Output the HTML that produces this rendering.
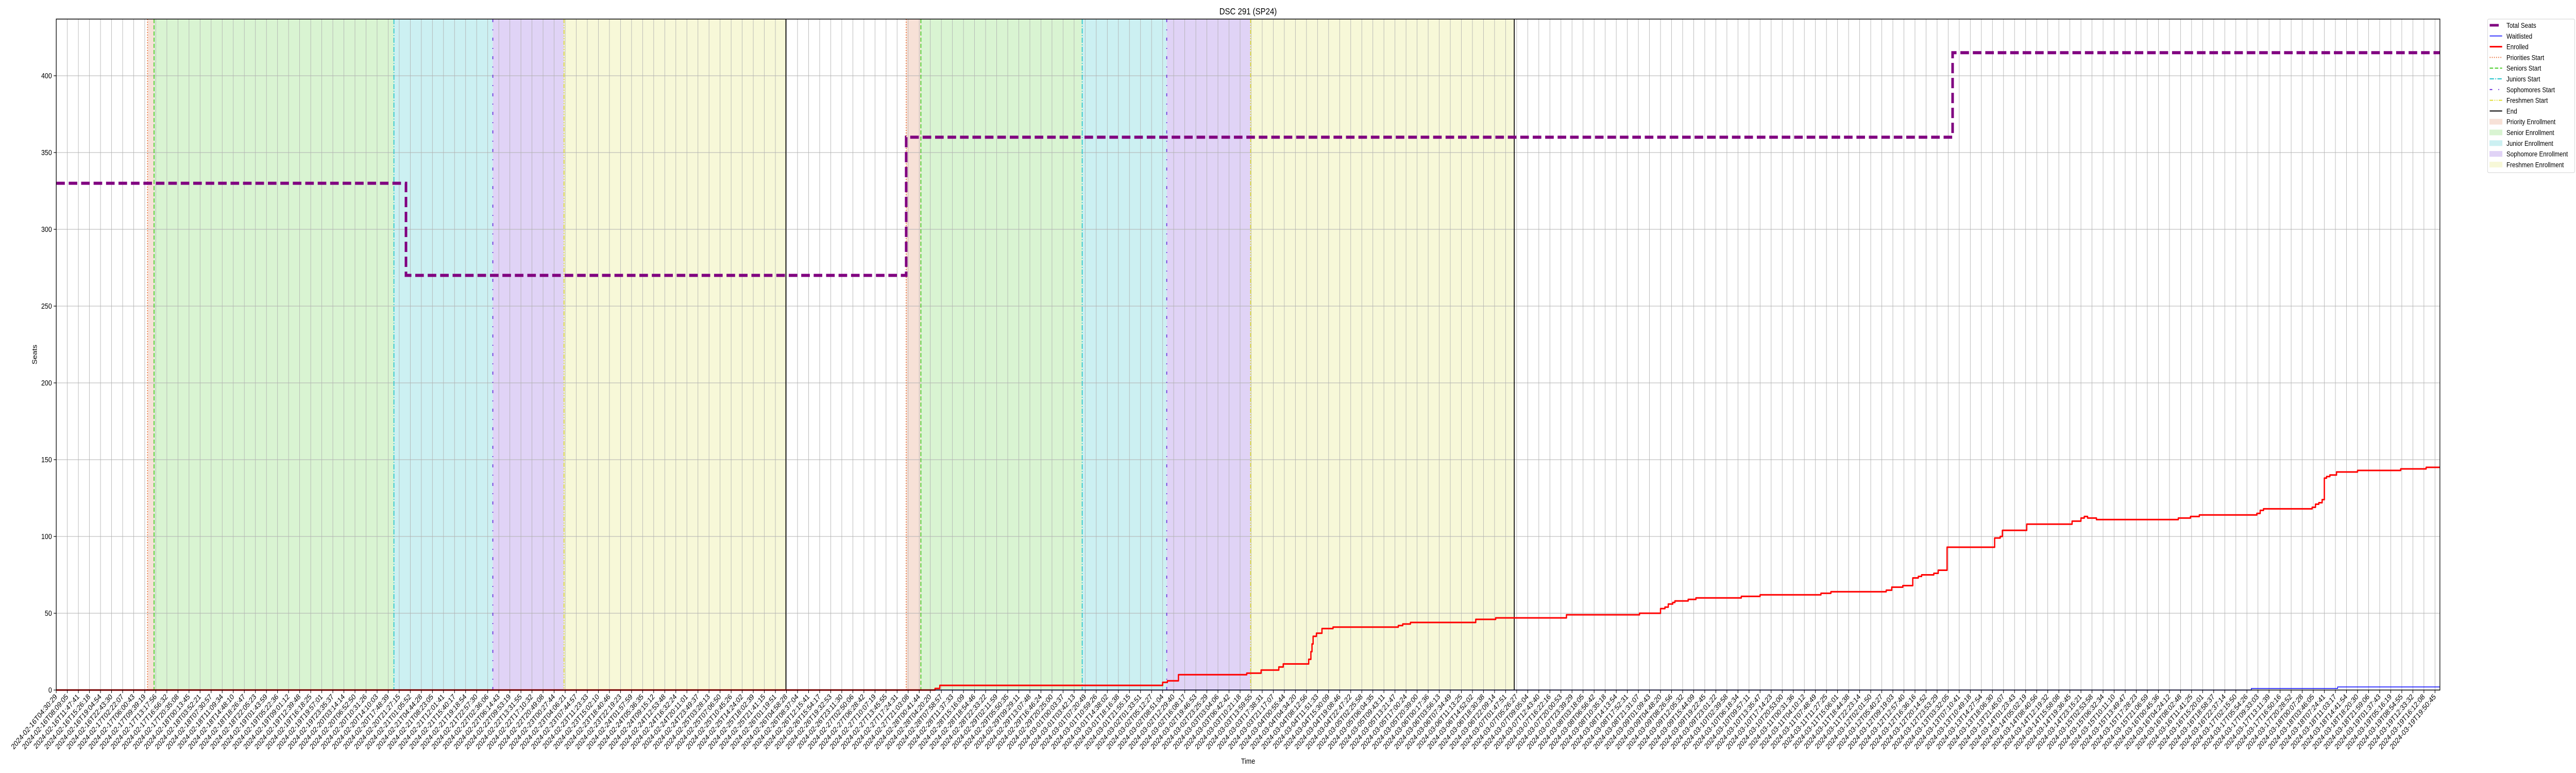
<!DOCTYPE html>
<html><head><meta charset="utf-8"><style>
html,body{margin:0;padding:0;background:#fff;width:100%;height:100%;overflow:hidden;}
svg{display:block;position:fixed;left:0;top:0;width:100vw;height:100vh;font-family:"Liberation Sans","DejaVu Sans",sans-serif;}
</style></head><body>
<svg id="chart" viewBox="0 0 6000 1500" preserveAspectRatio="none" xmlns="http://www.w3.org/2000/svg">
<text x="2907" y="28" font-size="18" text-anchor="middle">DSC 291 (SP24)</text>
<text x="2907" y="1482" font-size="15" text-anchor="middle">Time</text>
<text transform="translate(86,688) rotate(-90)" font-size="15" text-anchor="middle">Seats</text>
<g id="plot"></g>
<g id="legend"></g>
</svg>
<script>
// ---- data ----
const yTicks = [0,50,100,150,200,250,300,350,400];
const nTicks = 216;
const tickStart = Date.UTC(2024,1,16,4,30,29);
const tickEnd = Date.UTC(2024,2,19,19,50,45);
const tickLabels = [];
for (let k=0;k<nTicks;k++){ const t=new Date(tickStart+(tickEnd-tickStart)*k/(nTicks-1)); tickLabels.push(t.toISOString().slice(0,19)); }
// seats (step-post): change index and value
const seatX = [0, 31.61, 76.82, 171.4];
const seatV = [330, 270, 360, 415];
// enrolled (step-post)
const enrX = [0,79.43,79.86,99.92,100.0,100.43,101.43,107.6,108.9,110.5,110.9,113.2,113.4,113.5,113.6,113.9,114.4,115.4,121.3,121.7,122.4,128.3,130.1,136.5,143.1,145.0,145.4,145.7,146.1,146.3,147.5,148.2,152.3,154.0,159.5,160.4,165.4,165.9,166.9,167.8,168.3,168.6,169.7,170.1,170.9,175.2,175.7,175.9,178.1,182.2,183.0,183.3,183.6,184.4,191.8,192.9,193.7,198.9,199.2,199.5,203.9,204.2,204.5,204.8,205.0,205.2,205.5,206.1,208.0,211.9,214.2];
const enrV = [0,1,3,3,5,6,10,11,13,15,17,20,25,30,35,37,40,41,42,43,44,46,47,49,50,53,54,56,57,58,59,60,61,62,63,64,65,67,68,73,74,75,76,78,93,99,100,104,108,110,112,113,112,111,112,113,114,115,117,118,119,121,122,124,138,139,140,142,143,144,145];
// waitlisted (step-post)
const waitX = [0, 198.4, 206.2];
const waitV = [0, 1, 2];
// phase starts (two enrollment cycles)
const priorityStart = [8.25, 76.82];
const seniorStart = [8.84, 78.15];
const juniorStart = [30.52, 92.73];
const sophStart = [39.46, 100.37];
const freshStart = [45.89, 107.95];
const endTimes = [65.95, 131.78];

// ---- scales ----
const X0=131, X1=5683, YT=37, YB=1339, DX=25.77;
const xs = i => X0 + i*DX;
const ys = v => YB - v*2.98;
const NS='http://www.w3.org/2000/svg';
const plot=document.getElementById('plot');
function mk(tag, attrs, parent){ const e=document.createElementNS(NS,tag); for(const k in attrs) e.setAttribute(k,attrs[k]); (parent||plot).appendChild(e); return e; }

const C = {pf:'#f7e1d7',pl:'#e8703a',sf:'#d9f4d2',sl:'#44cc22',jf:'#ccf0f2',jl:'#22c4cc',of:'#e0d3f6',ol:'#6a2ddc',ff:'#f7f8d8',fl:'#e0dc30'};

// spans
for (let c=0;c<2;c++){
  const spans=[[priorityStart[c],seniorStart[c],C.pf,'priority-enrollment-span'],[seniorStart[c],juniorStart[c],C.sf,'senior-enrollment-span'],[juniorStart[c],sophStart[c],C.jf,'junior-enrollment-span'],[sophStart[c],freshStart[c],C.of,'sophomore-enrollment-span'],[freshStart[c],endTimes[c],C.ff,'freshmen-enrollment-span']];
  spans.forEach(s=>{ const r=mk('rect',{x:xs(s[0]),y:YT,width:xs(s[1])-xs(s[0]),height:YB-YT,fill:s[2]});
    
     });
}
// grid
for (let k=0;k<nTicks;k++){ const g=mk('line',{x1:xs(k),x2:xs(k),y1:YT,y2:YB,stroke:'#b0b0b0','stroke-width':1});
  
   }
yTicks.forEach(v=>{ const g=mk('line',{x1:X0,x2:X1,y1:ys(v),y2:ys(v),stroke:'#b0b0b0','stroke-width':1});
  
   });
// phase lines
function vline(arr,color,dash,name,w){ arr.forEach(i=>{ const l=mk('line',{x1:xs(i),x2:xs(i),y1:YT,y2:YB,stroke:color,'stroke-width':w||2,'stroke-dasharray':dash});
  
   }); }
vline(priorityStart,C.pl,'2 3','priorities-start-line');
vline(seniorStart,C.sl,'8 4','seniors-start-line');
vline(juniorStart,C.jl,'10 3 2 3','juniors-start-line');
vline(sophStart,C.ol,'6 14 2 14','sophomores-start-line');
vline(freshStart,C.fl,'8 3 2 3 2 3','freshmen-start-line');
vline(endTimes,'#000','none','end-line');

function stepPath(xa,va){ let d=''; for(let k=0;k<xa.length;k++){ const x=xs(xa[k]), y=ys(va[k]); if(k===0) d+='M'+x+' '+y; else d+=' L'+x+' '+ys(va[k-1])+' L'+x+' '+y; } d+=' L'+X1+' '+ys(va[va.length-1]); return d; }
const wp=mk('path',{d:stepPath(waitX,waitV),fill:'none',stroke:'#0000ff','stroke-width':1.5});


const ep=mk('path',{d:stepPath(enrX,enrV),fill:'none',stroke:'#ff0000','stroke-width':3,'stroke-linejoin':'round'});


const sp=mk('path',{d:stepPath(seatX,seatV),fill:'none',stroke:'#800080','stroke-width':6,'stroke-dasharray':'20 9'});



// frame
const fr=mk('rect',{x:X0,y:YT,width:X1-X0,height:YB-YT,fill:'none',stroke:'#000','stroke-width':1.5});


// y ticks
yTicks.forEach(v=>{ const t=mk('line',{x1:X0-6,x2:X0,y1:ys(v),y2:ys(v),stroke:'#000','stroke-width':1.2});
  
  
  const l=mk('text',{x:X0-10,y:ys(v)+5,'font-size':15,'text-anchor':'end'}); l.textContent=v;
  
   });
// x ticks
for (let k=0;k<nTicks;k++){ const x=xs(k);
  const t=mk('line',{x1:x,x2:x,y1:YB,y2:YB+6,stroke:'#000','stroke-width':1.2});
  
  
  const l=mk('text',{transform:'translate('+(x+3)+','+(YB+14)+') rotate(-45)','font-size':15,'text-anchor':'end'}); l.textContent=tickLabels[k];
  
   }

// legend
const lg=document.getElementById('legend');
const lb=mk('rect',{x:5794,y:37,width:203,height:298,fill:'#fff',stroke:'#d0d0d0','stroke-width':1,rx:3},lg);


const entries=[
 ['Total Seats','line','#800080',5,'none'],['Waitlisted','line','#0000ff',1.5,'none'],['Enrolled','line','#ff0000',3,'none'],
 ['Priorities Start','line',C.pl,2,'2 3'],['Seniors Start','line',C.sl,2,'8 4'],['Juniors Start','line',C.jl,2,'10 3 2 3'],
 ['Sophomores Start','line',C.ol,2,'6 14 2 14'],['Freshmen Start','line',C.fl,2,'8 3 2 3 2 3'],['End','line','#000',2,'none'],
 ['Priority Enrollment','patch',C.pf],['Senior Enrollment','patch',C.sf],['Junior Enrollment','patch',C.jf],['Sophomore Enrollment','patch',C.of],['Freshmen Enrollment','patch',C.ff]];
entries.forEach((e,k)=>{ const y=49+k*20.8;
  const g=mk('g',{},lg);
  
  
  if(e[1]==='line'){ mk('line',{x1:5799,x2:k===0?5820:5828,y1:y,y2:y,stroke:e[2],'stroke-width':e[3],'stroke-dasharray':e[4]},g); }
  else { mk('rect',{x:5799,y:y-5,width:29,height:10,fill:e[2],stroke:e[2]},g); }
  const t=mk('text',{x:5838,y:y+5,'font-size':14},g); t.textContent=e[0]; });
</script>
</body></html>
